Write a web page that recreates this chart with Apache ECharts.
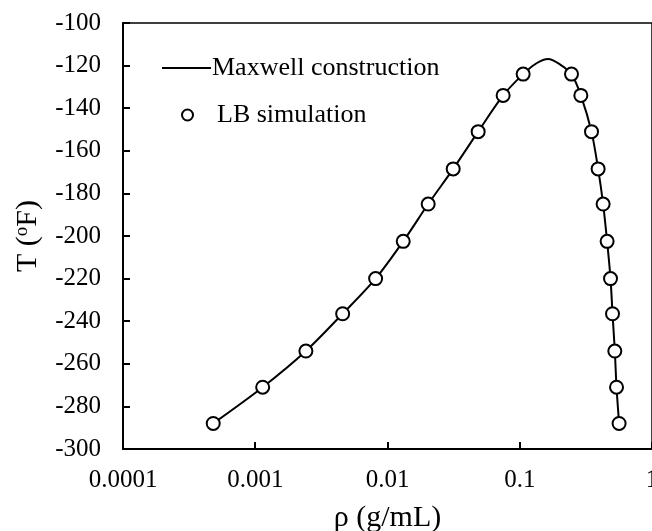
<!DOCTYPE html>
<html>
<head>
<meta charset="utf-8">
<script src="https://cdn.jsdelivr.net/npm/echarts@6/dist/echarts.min.js"></script>
<style>
html,body{margin:0;padding:0;background:#fff;}
#c{width:652px;height:531px;}
</style>
</head>
<body>
<div id="c"></div>
<script>
// LB simulation, vapour branch
var vaporRho = [0.000481, 0.001138, 0.002415, 0.00458, 0.00813, 0.01315, 0.02031, 0.03139, 0.04848, 0.07488, 0.1061];
var vaporT   = [-288, -271, -254, -236.5, -220, -202.5, -185, -168.5, -151, -134, -124];
// LB simulation, liquid branch
var liquidRho = [0.2462, 0.2897, 0.3488, 0.3914, 0.4270, 0.4577, 0.4857, 0.5029, 0.5234, 0.5392, 0.5639];
var liquidT   = [-124, -134, -151, -168.5, -185, -202.5, -220, -236.5, -254, -271, -288];
// Maxwell construction curve (extra points near the critical peak)
var peakRho = [0.134, 0.164, 0.201];
var peakT   = [-118.9, -116.9, -119.4];
var xTicks = [0.0001, 0.001, 0.01, 0.1, 1];

var maxwellData = [];
vaporRho.forEach(function (r, i) { maxwellData.push([r, vaporT[i]]); });
peakRho.forEach(function (r, i) { maxwellData.push([r, peakT[i]]); });
liquidRho.forEach(function (r, i) { maxwellData.push([r, liquidT[i]]); });
var lbData = [];
vaporRho.forEach(function (r, i) { lbData.push([r, vaporT[i]]); });
liquidRho.forEach(function (r, i) { lbData.push([r, liquidT[i]]); });

var FONT = '"Liberation Serif", "Times New Roman", serif';
var chart = echarts.init(document.getElementById('c'), null, {renderer: 'canvas'});
chart.setOption({
  animation: false,
  backgroundColor: '#fff',
  grid: {left: 123, right: 0, top: 23, bottom: 82, show: true, borderColor: '#000', borderWidth: 1.5,
         containLabel: false, outerBoundsMode: 'none'},
  legend: [{
    data: [{name: 'Maxwell construction', icon: 'path://M0,0L100,0L100,4L0,4Z'}],
    left: 162, top: 55, orient: 'vertical', symbolKeepAspect: false,
    itemWidth: 49, itemHeight: 2, itemGap: 2, padding: 0,
    textStyle: {fontFamily: FONT, fontSize: 26, color: '#000', padding: [0, 0, 0, -4]},
    selectedMode: false
  }, {
    data: [{name: 'LB simulation', icon: 'emptyCircle'}],
    left: 181, top: 102, orient: 'vertical',
    itemWidth: 11, itemHeight: 11, itemGap: 2, padding: 0,
    textStyle: {fontFamily: FONT, fontSize: 26, color: '#000', padding: [0, 0, 0, 19]},
    selectedMode: false
  }],
  xAxis: {
    type: 'log', logBase: 10, min: 0.0001, max: 1,
    name: 'ρ (g/mL)', nameLocation: 'middle', nameGap: 54,
    nameTextStyle: {fontFamily: FONT, fontSize: 30, color: '#000'},
    axisLine: {lineStyle: {color: '#000', width: 2}},
    axisTick: {inside: true, length: 7, lineStyle: {color: '#000', width: 2}},
    minorTick: {show: false},
    splitLine: {show: false},
    axisLabel: {fontFamily: FONT, fontSize: 25, color: '#000', margin: 19,
      formatter: function (v) {
        var best = xTicks[0];
        xTicks.forEach(function (t) { if (Math.abs(Math.log10(t) - Math.log10(v)) < Math.abs(Math.log10(best) - Math.log10(v))) best = t; });
        return String(best);
      }}
  },
  yAxis: {
    type: 'value', min: -300, max: -100, interval: 20,
    name: '{n|T (}{s|o}{n|F)}', nameLocation: 'middle', nameGap: 80,
    nameTextStyle: {fontFamily: FONT, fontSize: 30, color: '#000',
      rich: {
        n: {fontFamily: FONT, fontSize: 30, color: '#000'},
        s: {fontFamily: FONT, fontSize: 19, color: '#000', verticalAlign: 'top', padding: [0, 0, 9, 0]}
      }},
    axisLine: {lineStyle: {color: '#000', width: 2}},
    axisTick: {inside: true, length: 7, lineStyle: {color: '#000', width: 2}},
    splitLine: {show: false},
    axisLabel: {fontFamily: FONT, fontSize: 25, color: '#000', margin: 22}
  },
  series: [{
    name: 'Maxwell construction', type: 'line', data: maxwellData,
    symbol: 'none', smooth: 0.3,
    lineStyle: {color: '#000', width: 2},
    itemStyle: {color: '#000'},
    z: 2
  }, {
    name: 'LB simulation', type: 'scatter', data: lbData,
    symbol: 'emptyCircle', symbolSize: 13,
    itemStyle: {color: '#000', borderColor: '#000', borderWidth: 2, opacity: 1},
    z: 3
  }]
});
</script>
</body>
</html>
